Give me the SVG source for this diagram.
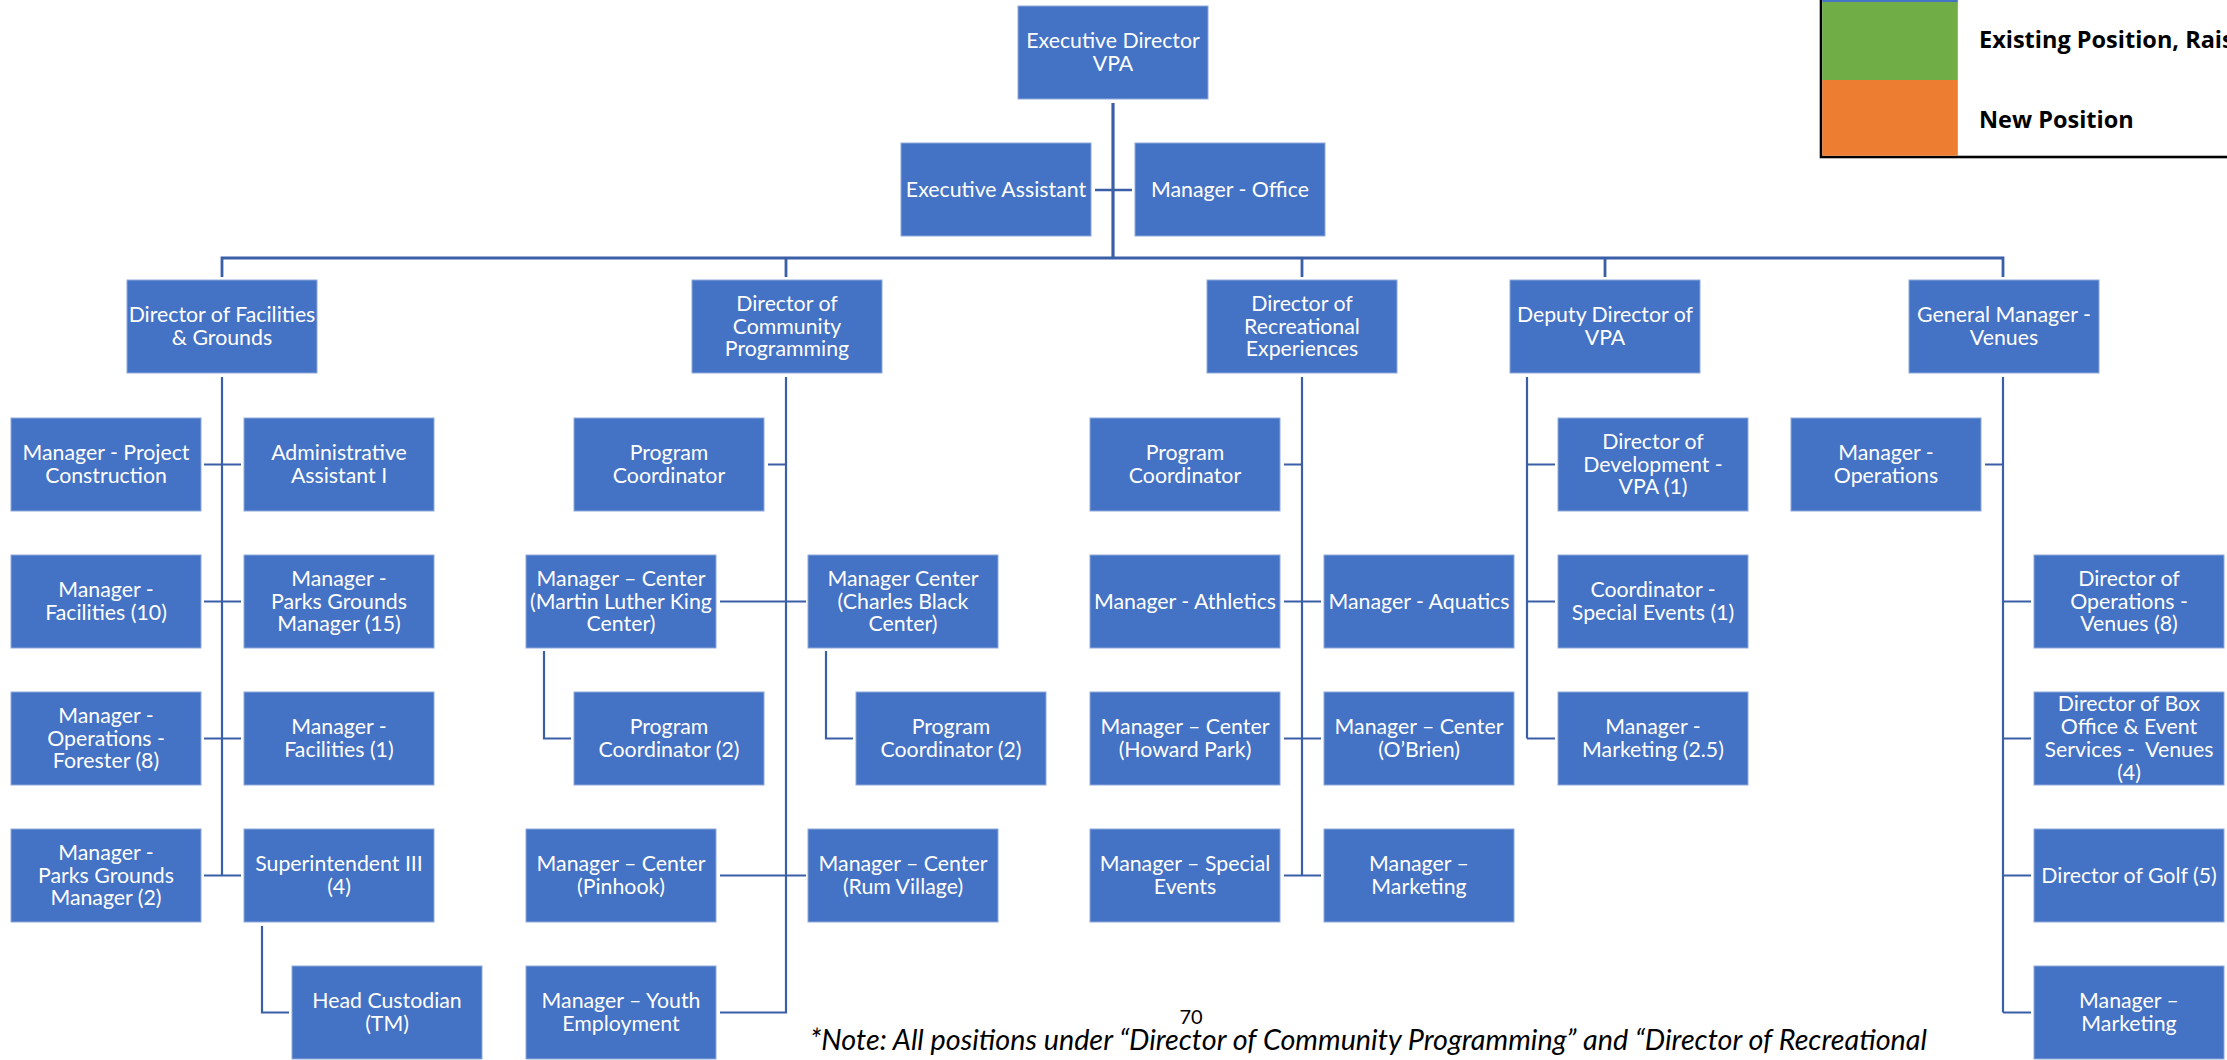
<svg xmlns="http://www.w3.org/2000/svg" width="2227" height="1060" viewBox="0 0 2227 1060">
  <style>
    .box { fill: #4472C4; stroke: #8EA9DB; stroke-width: 1; }
    .lbl { font-family: Lato, "Open Sans", "Liberation Sans", sans-serif; font-size: 21.3px; fill: #ffffff; text-anchor: middle; }
    .ln { fill: none; stroke: #3B5FA6; stroke-width: 2.2; }
    .trunk { stroke-width: 3.2; }
    .bus { stroke-width: 2.8; }
    .leg { font-family: "Open Sans", "Liberation Sans", sans-serif; font-weight: 700; font-size: 23.5px; fill: #000000; }
    .note { font-family: Lato, "Liberation Sans", sans-serif; font-style: italic; font-size: 28.5px; fill: #000000; }
    .page { font-family: Lato, "Liberation Sans", sans-serif; font-size: 20px; fill: #000000; text-anchor: middle; }
  </style>

  <!-- connectors -->
  <g id="connectors">
    <path class="ln trunk" d="M1113 103 V258"/>
    <path class="ln" d="M1095 190 H1132" style="stroke-width:2.5"/>
    <path class="ln bus" d="M222 277 V258 H2003 V277 M786 258 V277 M1302 258 V277 M1605 258 V277"/>
    <!-- Facilities & Grounds -->
    <path class="ln" d="M222 377 V875.5 M204 464.5 H241 M204 601.5 H241 M204 738.5 H241 M204 875.5 H241"/>
    <path class="ln" d="M262 926 V1012.5 H289"/>
    <!-- Community Programming -->
    <path class="ln" d="M786 377 V1012.5 H720 M768 464.5 H786 M720 601.5 H806 M720 875.5 H806"/>
    <path class="ln" d="M544 651 V738.5 H571 M826 651 V738.5 H853"/>
    <!-- Recreational Experiences -->
    <path class="ln" d="M1302 377 V875.5 M1284 464.5 H1302 M1284 601.5 H1321 M1284 738.5 H1321 M1284 875.5 H1321"/>
    <!-- Deputy Director -->
    <path class="ln" d="M1527 377 V738.5 M1527 464.5 H1555 M1527 601.5 H1555 M1527 738.5 H1555"/>
    <!-- General Manager - Venues -->
    <path class="ln" d="M2003 377 V1012.5 M1985 464.5 H2003 M2003 601.5 H2031 M2003 738.5 H2031 M2003 875.5 H2031 M2003 1012.5 H2031"/>
  </g>

  <!-- top level -->
  <g id="exec-director">
    <rect class="box" x="1018" y="6" width="190" height="93"/>
    <text class="lbl"><tspan x="1113" y="48.2">Executive Director</tspan><tspan x="1113" y="70.9">VPA</tspan></text>
  </g>
  <g id="exec-assistant">
    <rect class="box" x="901" y="143" width="190" height="93"/>
    <text class="lbl" x="996" y="196.5">Executive Assistant</text>
  </g>
  <g id="manager-office">
    <rect class="box" x="1135" y="143" width="190" height="93"/>
    <text class="lbl" x="1230" y="196.5">Manager - Office</text>
  </g>

  <!-- directors -->
  <g id="dir-facilities">
    <rect class="box" x="127" y="280" width="190" height="93"/>
    <text class="lbl"><tspan x="222" y="322.2">Director of Facilities</tspan><tspan x="222" y="344.9">&amp; Grounds</tspan></text>
  </g>
  <g id="dir-community">
    <rect class="box" x="692" y="280" width="190" height="93"/>
    <text class="lbl"><tspan x="787" y="310.8">Director of</tspan><tspan x="787" y="333.5">Community</tspan><tspan x="787" y="356.2">Programming</tspan></text>
  </g>
  <g id="dir-recreational">
    <rect class="box" x="1207" y="280" width="190" height="93"/>
    <text class="lbl"><tspan x="1302" y="310.8">Director of</tspan><tspan x="1302" y="333.5">Recreational</tspan><tspan x="1302" y="356.2">Experiences</tspan></text>
  </g>
  <g id="deputy-director">
    <rect class="box" x="1510" y="280" width="190" height="93"/>
    <text class="lbl"><tspan x="1605" y="322.2">Deputy Director of</tspan><tspan x="1605" y="344.9">VPA</tspan></text>
  </g>
  <g id="gm-venues">
    <rect class="box" x="1909" y="280" width="190" height="93"/>
    <text class="lbl"><tspan x="2004" y="322.2">General Manager -</tspan><tspan x="2004" y="344.9">Venues</tspan></text>
  </g>

  <!-- Facilities & Grounds staff -->
  <g id="mgr-project-construction">
    <rect class="box" x="11" y="418" width="190" height="93"/>
    <text class="lbl"><tspan x="106" y="460.2">Manager - Project</tspan><tspan x="106" y="482.9">Construction</tspan></text>
  </g>
  <g id="admin-assistant">
    <rect class="box" x="244" y="418" width="190" height="93"/>
    <text class="lbl"><tspan x="339" y="460.2">Administrative</tspan><tspan x="339" y="482.9">Assistant I</tspan></text>
  </g>
  <g id="mgr-facilities-10">
    <rect class="box" x="11" y="555" width="190" height="93"/>
    <text class="lbl"><tspan x="106" y="597.2">Manager -</tspan><tspan x="106" y="619.9">Facilities (10)</tspan></text>
  </g>
  <g id="mgr-parks-15">
    <rect class="box" x="244" y="555" width="190" height="93"/>
    <text class="lbl"><tspan x="339" y="585.8">Manager -</tspan><tspan x="339" y="608.5">Parks Grounds</tspan><tspan x="339" y="631.2">Manager (15)</tspan></text>
  </g>
  <g id="mgr-forester">
    <rect class="box" x="11" y="692" width="190" height="93"/>
    <text class="lbl"><tspan x="106" y="722.8">Manager -</tspan><tspan x="106" y="745.5">Operations -</tspan><tspan x="106" y="768.2">Forester (8)</tspan></text>
  </g>
  <g id="mgr-facilities-1">
    <rect class="box" x="244" y="692" width="190" height="93"/>
    <text class="lbl"><tspan x="339" y="734.2">Manager -</tspan><tspan x="339" y="756.9">Facilities (1)</tspan></text>
  </g>
  <g id="mgr-parks-2">
    <rect class="box" x="11" y="829" width="190" height="93"/>
    <text class="lbl"><tspan x="106" y="859.8">Manager -</tspan><tspan x="106" y="882.5">Parks Grounds</tspan><tspan x="106" y="905.2">Manager (2)</tspan></text>
  </g>
  <g id="superintendent">
    <rect class="box" x="244" y="829" width="190" height="93"/>
    <text class="lbl"><tspan x="339" y="871.2">Superintendent III</tspan><tspan x="339" y="893.9">(4)</tspan></text>
  </g>
  <g id="head-custodian">
    <rect class="box" x="292" y="966" width="190" height="93"/>
    <text class="lbl"><tspan x="387" y="1008.2">Head Custodian</tspan><tspan x="387" y="1030.9">(TM)</tspan></text>
  </g>

  <!-- Community Programming staff -->
  <g id="cp-program-coordinator">
    <rect class="box" x="574" y="418" width="190" height="93"/>
    <text class="lbl"><tspan x="669" y="460.2">Program</tspan><tspan x="669" y="482.9">Coordinator</tspan></text>
  </g>
  <g id="center-mlk">
    <rect class="box" x="526" y="555" width="190" height="93"/>
    <text class="lbl"><tspan x="621" y="585.8">Manager – Center</tspan><tspan x="621" y="608.5">(Martin Luther King</tspan><tspan x="621" y="631.2">Center)</tspan></text>
  </g>
  <g id="center-charles-black">
    <rect class="box" x="808" y="555" width="190" height="93"/>
    <text class="lbl"><tspan x="903" y="585.8">Manager Center</tspan><tspan x="903" y="608.5">(Charles Black</tspan><tspan x="903" y="631.2">Center)</tspan></text>
  </g>
  <g id="mlk-program-coordinator">
    <rect class="box" x="574" y="692" width="190" height="93"/>
    <text class="lbl"><tspan x="669" y="734.2">Program</tspan><tspan x="669" y="756.9">Coordinator (2)</tspan></text>
  </g>
  <g id="cb-program-coordinator">
    <rect class="box" x="856" y="692" width="190" height="93"/>
    <text class="lbl"><tspan x="951" y="734.2">Program</tspan><tspan x="951" y="756.9">Coordinator (2)</tspan></text>
  </g>
  <g id="center-pinhook">
    <rect class="box" x="526" y="829" width="190" height="93"/>
    <text class="lbl"><tspan x="621" y="871.2">Manager – Center</tspan><tspan x="621" y="893.9">(Pinhook)</tspan></text>
  </g>
  <g id="center-rum-village">
    <rect class="box" x="808" y="829" width="190" height="93"/>
    <text class="lbl"><tspan x="903" y="871.2">Manager – Center</tspan><tspan x="903" y="893.9">(Rum Village)</tspan></text>
  </g>
  <g id="youth-employment">
    <rect class="box" x="526" y="966" width="190" height="93"/>
    <text class="lbl"><tspan x="621" y="1008.2">Manager – Youth</tspan><tspan x="621" y="1030.9">Employment</tspan></text>
  </g>

  <!-- Recreational Experiences staff -->
  <g id="re-program-coordinator">
    <rect class="box" x="1090" y="418" width="190" height="93"/>
    <text class="lbl"><tspan x="1185" y="460.2">Program</tspan><tspan x="1185" y="482.9">Coordinator</tspan></text>
  </g>
  <g id="mgr-athletics">
    <rect class="box" x="1090" y="555" width="190" height="93"/>
    <text class="lbl" x="1185" y="608.5">Manager - Athletics</text>
  </g>
  <g id="mgr-aquatics">
    <rect class="box" x="1324" y="555" width="190" height="93"/>
    <text class="lbl" x="1419" y="608.5">Manager - Aquatics</text>
  </g>
  <g id="center-howard-park">
    <rect class="box" x="1090" y="692" width="190" height="93"/>
    <text class="lbl"><tspan x="1185" y="734.2">Manager – Center</tspan><tspan x="1185" y="756.9">(Howard Park)</tspan></text>
  </g>
  <g id="center-obrien">
    <rect class="box" x="1324" y="692" width="190" height="93"/>
    <text class="lbl"><tspan x="1419" y="734.2">Manager – Center</tspan><tspan x="1419" y="756.9">(O’Brien)</tspan></text>
  </g>
  <g id="mgr-special-events">
    <rect class="box" x="1090" y="829" width="190" height="93"/>
    <text class="lbl"><tspan x="1185" y="871.2">Manager – Special</tspan><tspan x="1185" y="893.9">Events</tspan></text>
  </g>
  <g id="re-mgr-marketing">
    <rect class="box" x="1324" y="829" width="190" height="93"/>
    <text class="lbl"><tspan x="1419" y="871.2">Manager –</tspan><tspan x="1419" y="893.9">Marketing</tspan></text>
  </g>

  <!-- Deputy Director staff -->
  <g id="dir-development">
    <rect class="box" x="1558" y="418" width="190" height="93"/>
    <text class="lbl"><tspan x="1653" y="448.8">Director of</tspan><tspan x="1653" y="471.5">Development -</tspan><tspan x="1653" y="494.2">VPA (1)</tspan></text>
  </g>
  <g id="coord-special-events">
    <rect class="box" x="1558" y="555" width="190" height="93"/>
    <text class="lbl"><tspan x="1653" y="597.2">Coordinator -</tspan><tspan x="1653" y="619.9">Special Events (1)</tspan></text>
  </g>
  <g id="dd-mgr-marketing">
    <rect class="box" x="1558" y="692" width="190" height="93"/>
    <text class="lbl"><tspan x="1653" y="734.2">Manager -</tspan><tspan x="1653" y="756.9">Marketing (2.5)</tspan></text>
  </g>

  <!-- Venues staff -->
  <g id="mgr-operations">
    <rect class="box" x="1791" y="418" width="190" height="93"/>
    <text class="lbl"><tspan x="1886" y="460.2">Manager -</tspan><tspan x="1886" y="482.9">Operations</tspan></text>
  </g>
  <g id="dir-operations-venues">
    <rect class="box" x="2034" y="555" width="190" height="93"/>
    <text class="lbl"><tspan x="2129" y="585.8">Director of</tspan><tspan x="2129" y="608.5">Operations -</tspan><tspan x="2129" y="631.2">Venues (8)</tspan></text>
  </g>
  <g id="dir-box-office">
    <rect class="box" x="2034" y="692" width="190" height="93"/>
    <text class="lbl" xml:space="preserve"><tspan x="2129" y="711.4">Director of Box</tspan><tspan x="2129" y="734.1">Office &amp; Event</tspan><tspan x="2129" y="756.8">Services -  Venues</tspan><tspan x="2129" y="779.5">(4)</tspan></text>
  </g>
  <g id="dir-golf">
    <rect class="box" x="2034" y="829" width="190" height="93"/>
    <text class="lbl" x="2129" y="882.5">Director of Golf (5)</text>
  </g>
  <g id="venues-mgr-marketing">
    <rect class="box" x="2034" y="966" width="190" height="93"/>
    <text class="lbl"><tspan x="2129" y="1008.2">Manager –</tspan><tspan x="2129" y="1030.9">Marketing</tspan></text>
  </g>

  <!-- legend -->
  <g id="legend">
    <rect x="1821" y="-90" width="430" height="247" fill="#ffffff" stroke="#000000" stroke-width="2.6"/>
    <rect x="1822.3" y="-88" width="135.5" height="90" fill="#4472C4"/>
    <rect x="1822.3" y="2" width="135.5" height="78" fill="#70AD47"/>
    <rect x="1822.3" y="80" width="135.5" height="75.7" fill="#ED7D31"/>
    <text class="leg" x="1979" y="48.3">Existing Position, Rais</text>
    <text class="leg" x="1979" y="128.3">New Position</text>
  </g>

  <!-- footer -->
  <text class="page" x="1191" y="1024">70</text>
  <text class="note" x="810" y="1050" textLength="1117" lengthAdjust="spacingAndGlyphs">*Note: All positions under “Director of Community Programming” and “Director of Recreational</text>
</svg>
